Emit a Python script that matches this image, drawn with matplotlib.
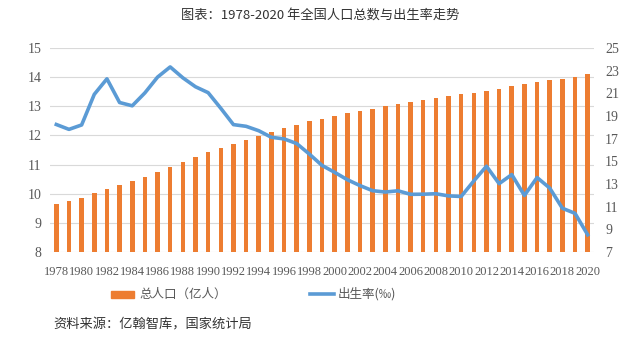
import numpy as np
import matplotlib.pyplot as plt

plt.rcParams['font.family'] = ['Liberation Serif', 'Noto Sans CJK SC', 'DejaVu Sans']

# data
years = list(range(1978, 2021))
population = [9.63, 9.75, 9.87, 10.01, 10.17, 10.30, 10.44, 10.59, 10.75, 10.93,
              11.10, 11.27, 11.43, 11.58, 11.72, 11.85, 11.99, 12.11, 12.24, 12.36,
              12.48, 12.58, 12.67, 12.76, 12.85, 12.92, 13.00, 13.08, 13.14, 13.21,
              13.28, 13.35, 13.41, 13.47, 13.54, 13.61, 13.68, 13.75, 13.83, 13.90,
              13.95, 14.00, 14.12]
birth_rate = [18.25, 17.82, 18.21, 20.91, 22.28, 20.19, 19.90, 21.04, 22.43, 23.33,
              22.37, 21.58, 21.06, 19.68, 18.24, 18.09, 17.70, 17.12, 16.98, 16.57,
              15.64, 14.64, 14.03, 13.38, 12.86, 12.41, 12.29, 12.40, 12.09, 12.10,
              12.14, 11.95, 11.90, 13.27, 14.57, 13.03, 13.83, 11.99, 13.57, 12.64,
              10.86, 10.41, 8.52]
year_labels = [str(y) if y % 2 == 0 else '' for y in years]

bar_color = '#ED7D31'
line_color = '#5B9BD5'
text_color = '#595959'
cjk = ['Noto Sans CJK SC', 'DejaVu Sans']

fig = plt.figure(figsize=(6.4, 3.57), dpi=100)
ax = fig.add_axes([50 / 640, 1 - 252 / 357, 544 / 640, 204 / 357])
x = np.arange(len(years))

ax.bar(x, population, width=0.36, color=bar_color, zorder=2)
ax.set_ylim(8, 15)
ax.set_yticks(range(8, 16))
ax.set_xlim(-0.5, len(years) - 0.5)
ax.set_xticks(x)
ax.set_xticklabels(year_labels)
ax.grid(axis='y', color='#D9D9D9', linewidth=0.8, zorder=0)
ax.tick_params(axis='y', length=0, labelsize=10, colors=text_color, pad=6)
ax.tick_params(axis='x', length=0, labelsize=9, colors=text_color, pad=10)
for s in ax.spines.values():
    s.set_visible(False)

ax2 = ax.twinx()
ax2.plot(x, birth_rate, color=line_color, linewidth=2.6, zorder=3)
ax2.set_ylim(7, 25)
ax2.set_yticks(range(7, 26, 2))
ax2.tick_params(axis='y', length=0, labelsize=10, colors=text_color, pad=8)
for s in ax2.spines.values():
    s.set_visible(False)

fig.text(0.5, 1 - 15 / 357, '图表：1978-2020 年全国人口总数与出生率走势',
         ha='center', va='center', fontsize=9.5, color='#333333', family=cjk)

# legend
fig.patches.append(plt.Rectangle((111 / 640, 1 - 298 / 357), 23 / 640, 7 / 357,
                                 transform=fig.transFigure, color=bar_color))
fig.text(139 / 640, 1 - 294 / 357, '总人口（亿人）', ha='left', va='center',
         fontsize=9, color=text_color, family=cjk)
fig.add_artist(plt.Line2D([310 / 640, 334 / 640], [1 - 294 / 357, 1 - 294 / 357],
                          color=line_color, linewidth=2.6, transform=fig.transFigure))
fig.text(338 / 640, 1 - 294 / 357, '出生率(‰)', ha='left', va='center',
         fontsize=9, color=text_color, family=cjk)

fig.text(53 / 640, 1 - 325 / 357, '资料来源：亿翰智库，国家统计局', ha='left', va='center',
         fontsize=9.5, color='#333333', family=cjk)

fig.savefig('out.png', dpi=100, facecolor='white')
